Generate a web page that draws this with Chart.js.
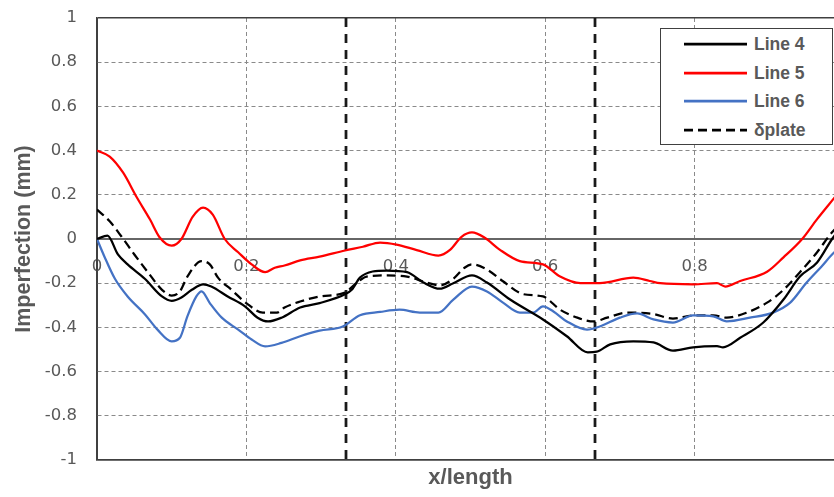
<!DOCTYPE html>
<html>
<head>
<meta charset="utf-8">
<script src="https://cdn.jsdelivr.net/npm/chart.js@4/dist/chart.umd.min.js"></script>
<style>
html, body { margin: 0; padding: 0; overflow: hidden; background: #ffffff; width: 834px; height: 497px; }
#wrap { position: relative; width: 860px; height: 497px; }
#legend { position: absolute; left: 660px; top: 28px; width: 171px; height: 115px; border: 1px solid #404040; background: #ffffff;
  font-family: "Liberation Sans", Arial, sans-serif; font-weight: bold; font-size: 17.5px; color: #595959; }
.row { position: absolute; left: 0; width: 171px; height: 28px; }
.row svg { position: absolute; left: 23px; top: 12px; }
.row span { position: absolute; left: 93px; top: 0; line-height: 28px; white-space: nowrap; }
</style>
</head>
<body>
<div id="wrap">
  <canvas id="c" width="860" height="497"></canvas>
  <div id="legend"></div>
</div>
<script>
// ---- data ----
const seriesNames = ['Line 4', 'Line 5', 'Line 6', 'δplate'];

const line4X = [0, 0.014, 0.028, 0.041, 0.064, 0.087, 0.10, 0.113, 0.127, 0.142, 0.153, 0.175, 0.198, 0.215, 0.229, 0.247, 0.272, 0.298, 0.332, 0.341, 0.352, 0.369, 0.388, 0.415, 0.437, 0.459, 0.477, 0.502, 0.522, 0.553, 0.597, 0.629, 0.657, 0.669, 0.687, 0.718, 0.745, 0.771, 0.798, 0.83, 0.838, 0.861, 0.892, 0.919, 0.941, 0.964, 0.984, 0.995];
const line4Y = [0, 0.015, -0.07, -0.115, -0.18, -0.26, -0.28, -0.265, -0.23, -0.205, -0.215, -0.26, -0.305, -0.356, -0.373, -0.356, -0.31, -0.29, -0.25, -0.23, -0.175, -0.147, -0.143, -0.15, -0.197, -0.225, -0.2, -0.165, -0.197, -0.274, -0.364, -0.44, -0.513, -0.51, -0.477, -0.463, -0.468, -0.505, -0.49, -0.485, -0.49, -0.447, -0.378, -0.274, -0.17, -0.106, 0.0, 0.05];

const line5X = [0, 0.017, 0.035, 0.053, 0.071, 0.084, 0.10, 0.113, 0.128, 0.142, 0.155, 0.171, 0.189, 0.207, 0.225, 0.238, 0.251, 0.272, 0.298, 0.332, 0.356, 0.379, 0.401, 0.428, 0.457, 0.473, 0.488, 0.502, 0.519, 0.539, 0.566, 0.597, 0.62, 0.647, 0.673, 0.718, 0.74, 0.754, 0.798, 0.83, 0.841, 0.861, 0.897, 0.919, 0.944, 0.964, 0.987, 1.0];
const line5Y = [0.40, 0.373, 0.30, 0.19, 0.088, 0.007, -0.03, 0.0, 0.10, 0.142, 0.11, 0.0, -0.06, -0.115, -0.15, -0.13, -0.12, -0.097, -0.08, -0.052, -0.035, -0.016, -0.025, -0.05, -0.075, -0.048, 0.01, 0.03, 0.006, -0.048, -0.10, -0.115, -0.17, -0.20, -0.20, -0.175, -0.19, -0.20, -0.205, -0.2, -0.215, -0.19, -0.148, -0.083, 0.0, 0.09, 0.186, 0.24];

const line6X = [0, 0.01, 0.024, 0.041, 0.064, 0.081, 0.10, 0.111, 0.121, 0.133, 0.14, 0.151, 0.167, 0.189, 0.207, 0.225, 0.247, 0.272, 0.298, 0.329, 0.352, 0.379, 0.405, 0.432, 0.457, 0.477, 0.502, 0.522, 0.543, 0.566, 0.584, 0.597, 0.611, 0.629, 0.656, 0.673, 0.70, 0.723, 0.745, 0.771, 0.798, 0.825, 0.843, 0.874, 0.905, 0.928, 0.95, 0.97, 0.987, 1.0];
const line6Y = [0, -0.08, -0.18, -0.26, -0.34, -0.41, -0.463, -0.447, -0.35, -0.26, -0.237, -0.29, -0.356, -0.41, -0.455, -0.486, -0.47, -0.44, -0.415, -0.396, -0.345, -0.33, -0.32, -0.333, -0.333, -0.274, -0.215, -0.237, -0.287, -0.333, -0.333, -0.305, -0.328, -0.373, -0.41, -0.396, -0.356, -0.337, -0.364, -0.378, -0.346, -0.35, -0.373, -0.356, -0.333, -0.288, -0.197, -0.124, -0.06, -0.03];

const plateX = [0, 0.017, 0.033, 0.05, 0.068, 0.087, 0.10, 0.111, 0.121, 0.14, 0.151, 0.162, 0.18, 0.202, 0.222, 0.241, 0.251, 0.272, 0.298, 0.332, 0.348, 0.361, 0.388, 0.415, 0.441, 0.459, 0.477, 0.492, 0.502, 0.522, 0.543, 0.571, 0.597, 0.62, 0.643, 0.665, 0.683, 0.71, 0.745, 0.771, 0.798, 0.825, 0.843, 0.87, 0.897, 0.919, 0.941, 0.964, 0.984, 1.0];
const plateY = [0.133, 0.08, 0.01, -0.07, -0.15, -0.23, -0.256, -0.237, -0.17, -0.10, -0.115, -0.175, -0.23, -0.296, -0.333, -0.333, -0.31, -0.283, -0.26, -0.242, -0.197, -0.17, -0.165, -0.17, -0.197, -0.21, -0.18, -0.13, -0.115, -0.138, -0.19, -0.25, -0.26, -0.32, -0.356, -0.373, -0.356, -0.333, -0.34, -0.36, -0.346, -0.346, -0.356, -0.333, -0.288, -0.23, -0.15, -0.06, 0.03, 0.08];

const dividerX = [1/3, 2/3];       // vertical dashed reference lines (x/length)
const xRange = [0, 1];
const yRange = [-1, 1];
const tickStep = 0.2;

// ---- build chart ----
const pts = (xs, ys) => xs.map((x, i) => ({ x: x, y: ys[i] }));
const colors = ['#000000', '#ff0000', '#4472c4', '#000000'];
const dashes = [[], [], [], [9, 5]];
const seriesData = [pts(line4X, line4Y), pts(line5X, line5Y), pts(line6X, line6Y), pts(plateX, plateY)];

const datasets = seriesData.map((d, i) => ({
  label: seriesNames[i], data: d, borderColor: colors[i], backgroundColor: colors[i],
  borderWidth: 2.25, borderDash: dashes[i], pointRadius: 0, fill: false,
  cubicInterpolationMode: 'monotone'
}));
dividerX.forEach(v => datasets.push({
  label: 'divider', data: [{ x: v, y: yRange[1] }, { x: v, y: yRange[0] }],
  borderColor: '#1a1a1a', borderWidth: 2.75, borderDash: [9, 7], pointRadius: 0, fill: false, tension: 0
}));

const tickFont = { family: 'DejaVu Sans', size: 16.5 };
const fmt = v => String(Math.round(v * 10) / 10);
const isV = (c, v) => c && c.tick && Math.abs(c.tick.value - v) < 1e-9;

new Chart(document.getElementById('c'), {
  type: 'line',
  data: { datasets: datasets },
  options: {
    responsive: false, animation: false, devicePixelRatio: 1,
    layout: { padding: { left: 0, right: 16, top: 18, bottom: 0 } },
    plugins: { legend: { display: false }, tooltip: { enabled: false } },
    scales: {
      x: {
        type: 'linear', position: 'bottom', min: xRange[0], max: xRange[1],
        ticks: { display: false, stepSize: tickStep },
        grid: { color: c => isV(c, 0) ? '#404040' : '#8a8a8a', lineWidth: 1, drawTicks: false },
        border: { display: true, color: '#404040', width: 1.5, dash: c => isV(c, 0) ? [] : [4, 3] },
        title: { display: true, text: 'x/length', color: '#595959',
          font: { family: 'Liberation Sans', size: 22, weight: 'bold' }, padding: { top: 0, bottom: 6 } },
        afterFit: s => { s.height = 37; s.paddingLeft = 0; s.paddingRight = 0; }
      },
      x2: {
        type: 'linear', position: { y: 0 }, min: xRange[0], max: xRange[1],
        ticks: { stepSize: tickStep, color: '#595959', font: tickFont, padding: 18, maxRotation: 0, autoSkip: false, callback: fmt },
        grid: { display: false, drawTicks: false },
        border: { display: false },
        afterFit: s => { s.height = 0; s.paddingLeft = 0; s.paddingRight = 0; }
      },
      y: {
        type: 'linear', position: 'left', min: yRange[0], max: yRange[1],
        ticks: { stepSize: tickStep, color: '#595959', font: tickFont, padding: 20, callback: fmt },
        grid: {
          color: c => isV(c, 0) ? '#666666' : (isV(c, 1) || isV(c, -1)) ? '#404040' : '#8a8a8a',
          lineWidth: c => isV(c, 0) ? 2 : (isV(c, 1) || isV(c, -1)) ? 1.5 : 1,
          drawTicks: false
        },
        border: { display: true, color: '#404040', width: 1.5,
          dash: c => (isV(c, 0) || isV(c, 1) || isV(c, -1)) ? [] : [4, 3] },
        title: { display: true, text: 'Imperfection (mm)', color: '#595959',
          font: { family: 'Liberation Sans', size: 21.5, weight: 'bold' }, padding: { top: 11, bottom: 0 } },
        afterFit: s => { s.width = 97; s.paddingTop = 0; s.paddingBottom = 0; }
      }
    }
  }
});

// ---- legend (HTML, built from the same series arrays) ----
const legend = document.getElementById('legend');
const rowCenters = [15, 43.5, 72, 100.5];
seriesNames.forEach((name, i) => {
  const row = document.createElement('div');
  row.className = 'row';
  row.style.top = (rowCenters[i] - 14) + 'px';
  const dash = dashes[i].length ? ` stroke-dasharray="${dashes[i].join(' ')}"` : '';
  row.innerHTML = `<svg width="63" height="4"><line x1="0" y1="2" x2="63" y2="2" stroke="${colors[i]}" stroke-width="2.75"${dash}/></svg><span>${name}</span>`;
  legend.appendChild(row);
});
</script>
</body>
</html>
